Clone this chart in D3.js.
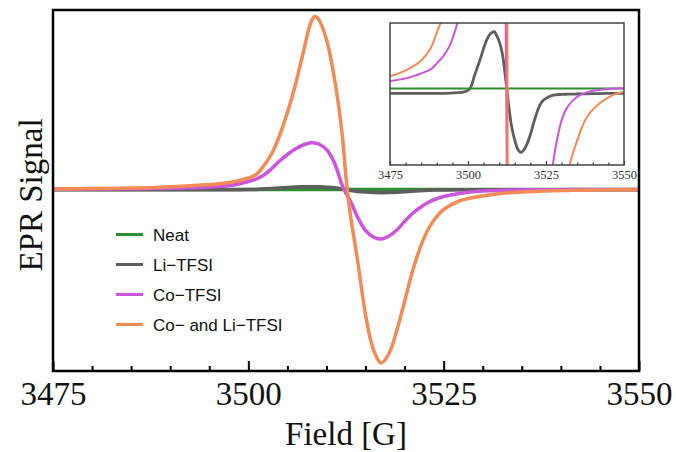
<!DOCTYPE html>
<html><head><meta charset="utf-8">
<script src="https://cdn.jsdelivr.net/npm/d3@7"></script>
<style>
body{margin:0;background:#fff;}
svg{display:block;}
</style></head>
<body>
<script>
// ---- data ----
const field = [3475,3480,3485,3488,3490,3492,3494,3496,3498,3500,3501,3502,3503,3504,3505,3506,3507,3508,3508.5,3509,3510,3511,3512,3512.5,3513,3514,3515,3516,3517,3518,3519,3520,3521,3522,3523,3524,3525,3527,3530,3532,3535,3538,3541,3544,3547,3550];
const neat = field.map(() => 0);
const liTFSI = [-0.25,-0.25,-0.25,-0.25,-0.25,-0.25,-0.24,-0.22,-0.2,-0.1,0.1,0.6,1.05,1.5,2.0,2.42,2.7,2.82,2.83,2.7,2.35,1.75,0.55,-0.1,-0.8,-1.92,-2.6,-3.05,-3.2,-3.05,-2.75,-2.3,-1.75,-1.25,-0.85,-0.62,-0.5,-0.35,-0.3,-0.29,-0.28,-0.27,-0.26,-0.25,-0.25,-0.25];
const coTFSI = [0.37,0.5,0.75,0.95,1.25,1.6,2.1,2.95,4.3,8,10.5,14.5,21,28.5,35,40.5,44.5,46.8,46.6,45.5,40,27,4.5,-4,-10.5,-28,-41,-47.5,-49.5,-46.5,-40.5,-32,-24,-18,-13,-9.5,-7,-4,-1.6,-0.9,-0.42,-0.2,-0.09,-0.04,0,0];
const coLiTFSI = [0.6,0.9,1.4,2.0,2.8,3.6,4.5,5.6,7.5,11.5,15,24,36,54,77,104,136,167,173,170,150,112,56,12,-22,-72,-125,-160,-173.5,-164,-141,-112,-82,-58,-40,-28,-20,-11.5,-6.5,-4.2,-2.6,-1.45,-0.9,-0.55,-0.3,-0.17];
const seriesNames = ["Neat","Li\u2212TFSI","Co\u2212TFSI","Co\u2212 and Li\u2212TFSI"];
const seriesColors = ["#2f8f2f","#5e5e5e","#cc55dd","#f28b55"];
const majorTicks = [3475,3500,3525,3550];
const minorTicks = [3480,3485,3490,3495,3505,3510,3515,3520,3530,3535,3540,3545];
const insetMarker = 3512.4;
const xLabel = "Field [G]";
const yLabel = "EPR Signal";

const allSeries = [neat, liTFSI, coTFSI, coLiTFSI];

// ---- layout ----
const W = 676, H = 452;
const M = {l:53, t:10, r:639, b:371};
const I = {l:390, t:23, r:624, b:165};

const svg = d3.select("body").append("svg").attr("width",W).attr("height",H);

const x = d3.scaleLinear().domain([3475,3550]).range([M.l, M.r]);
const y = d3.scaleLinear().domain([-181.5,179.5]).range([M.b, M.t]);
const xi = d3.scaleLinear().domain([3475,3550]).range([I.l, I.r]);
const yi = d3.scaleLinear().domain([-3.83,3.27]).range([I.b, I.t]);

const defs = svg.append("defs");
defs.append("clipPath").attr("id","mainClip").append("rect")
  .attr("x",M.l).attr("y",M.t).attr("width",M.r-M.l).attr("height",M.b-M.t);
defs.append("clipPath").attr("id","insetClip").append("rect")
  .attr("x",I.l).attr("y",I.t).attr("width",I.r-I.l).attr("height",I.b-I.t);

const curve = d3.curveCatmullRom.alpha(0.5);

// main lines
const gMain = svg.append("g").attr("clip-path","url(#mainClip)");
allSeries.forEach((vals,k) => {
  const line = d3.line().x((d,i)=>x(field[i])).y(d=>y(d)).curve(curve);
  gMain.append("path").attr("d", line(vals)).attr("fill","none")
    .attr("stroke", seriesColors[k]).attr("stroke-width",3.5).attr("stroke-linejoin","round");
});

// main axes
const axMajor = d3.axisBottom(x).tickValues(majorTicks).tickFormat(d3.format("d"))
  .tickSizeInner(-10).tickSizeOuter(0).tickPadding(11);
const gAx = svg.append("g").attr("transform",`translate(0,${M.b})`).call(axMajor);
gAx.select(".domain").remove();
gAx.selectAll("line").attr("stroke","#000").attr("stroke-width",2);
gAx.selectAll("text").attr("font-family","'Liberation Serif','Times New Roman',serif")
  .attr("font-size",33).attr("fill","#111");
const axMinor = d3.axisBottom(x).tickValues(minorTicks).tickFormat("").tickSizeInner(-5).tickSizeOuter(0);
const gAxm = svg.append("g").attr("transform",`translate(0,${M.b})`).call(axMinor);
gAxm.select(".domain").remove();
gAxm.selectAll("line").attr("stroke","#000").attr("stroke-width",2);

svg.append("rect").attr("x",M.l).attr("y",M.t).attr("width",M.r-M.l).attr("height",M.b-M.t)
  .attr("fill","none").attr("stroke","#000").attr("stroke-width",2.5);

svg.append("text").attr("x",(M.l+M.r)/2).attr("y",445).attr("text-anchor","middle")
  .attr("font-family","'Liberation Serif','Times New Roman',serif").attr("font-size",33)
  .attr("fill","#111").text(xLabel);
svg.append("text").attr("transform","translate(42,195) rotate(-90)").attr("text-anchor","middle")
  .attr("font-family","'Liberation Serif','Times New Roman',serif").attr("font-size",33)
  .attr("fill","#111").text(yLabel);

// legend
const leg = svg.append("g");
seriesNames.forEach((n,k) => {
  const yy = 234.5 + k*30;
  leg.append("line").attr("x1",116).attr("x2",143).attr("y1",yy).attr("y2",yy)
    .attr("stroke",seriesColors[k]).attr("stroke-width",3);
  leg.append("text").attr("x",153).attr("y",yy+6).attr("font-family","'Liberation Sans',Arial,sans-serif")
    .attr("font-size",17).attr("fill","#111").text(n);
});

// inset
svg.append("rect").attr("x",I.l).attr("y",I.t).attr("width",I.r-I.l).attr("height",I.b-I.t).attr("fill","#fff");
const gIn = svg.append("g").attr("clip-path","url(#insetClip)");
const insetOrder = [1,0,2,3];
insetOrder.forEach(k => {
  const line = d3.line().x((d,i)=>xi(field[i])).y(d=>yi(d)).curve(curve);
  gIn.append("path").attr("d", line(allSeries[k])).attr("fill","none")
    .attr("stroke", seriesColors[k]).attr("stroke-width", k===1 ? 2.8 : 2);
});
gIn.append("line").attr("x1",xi(insetMarker)).attr("x2",xi(insetMarker)).attr("y1",I.t).attr("y2",I.b)
  .attr("stroke","#ee6f6f").attr("stroke-width",1.8);

const iaxMajor = d3.axisBottom(xi).tickValues(majorTicks).tickFormat(d3.format("d"))
  .tickSizeInner(-4).tickSizeOuter(0).tickPadding(5);
const gi = svg.append("g").attr("transform",`translate(0,${I.b})`).call(iaxMajor);
gi.select(".domain").remove();
gi.selectAll("line").attr("stroke","#333").attr("stroke-width",1.2);
gi.selectAll("text").attr("font-family","'Liberation Serif','Times New Roman',serif")
  .attr("font-size",12.5).attr("fill","#333");
const iaxMinor = d3.axisBottom(xi).tickValues(minorTicks).tickFormat("").tickSizeInner(-2.5).tickSizeOuter(0);
const gim = svg.append("g").attr("transform",`translate(0,${I.b})`).call(iaxMinor);
gim.select(".domain").remove();
gim.selectAll("line").attr("stroke","#333").attr("stroke-width",1.2);
svg.append("rect").attr("x",I.l).attr("y",I.t).attr("width",I.r-I.l).attr("height",I.b-I.t)
  .attr("fill","none").attr("stroke","#444").attr("stroke-width",1.5);
</script>
</body></html>
